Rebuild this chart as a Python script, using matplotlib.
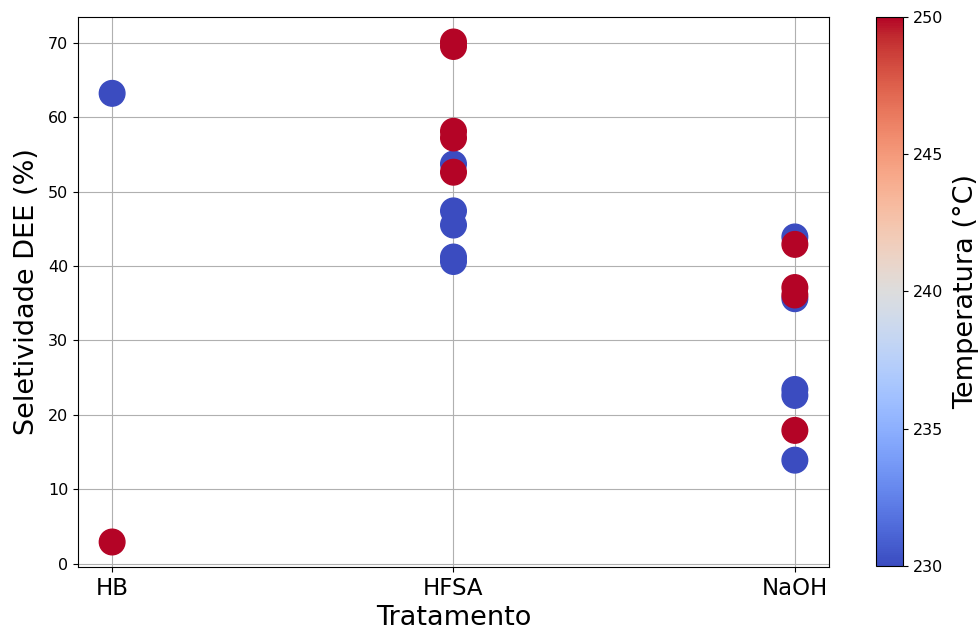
import matplotlib
matplotlib.use("Agg")
import matplotlib.pyplot as plt
from matplotlib.ticker import MultipleLocator, FormatStrFormatter

# data
tratamento = ["HB", "HB",
              "HFSA", "HFSA", "HFSA", "HFSA", "HFSA", "HFSA", "HFSA", "HFSA", "HFSA", "HFSA",
              "NaOH", "NaOH", "NaOH", "NaOH", "NaOH", "NaOH", "NaOH", "NaOH", "NaOH"]
seletividade = [63.2, 2.9,
                53.7, 47.4, 45.5, 41.2, 40.6, 70.1, 69.5, 58.1, 57.2, 52.6,
                43.9, 35.6, 23.4, 22.6, 13.9, 42.9, 37.1, 36.1, 17.9]
temperatura = [230, 250,
               230, 230, 230, 230, 230, 250, 250, 250, 250, 250,
               230, 230, 230, 230, 230, 250, 250, 250, 250]
categorias = ["HB", "HFSA", "NaOH"]

x = [categorias.index(t) for t in tratamento]

fig = plt.figure(figsize=(9.79, 6.33), dpi=100)
ax = fig.add_axes([78 / 979, 1 - 567 / 633, (829 - 78) / 979, (567 - 17) / 633])
cax = fig.add_axes([876 / 979, 1 - 566 / 633, (903 - 876) / 979, (566 - 17) / 633])

sc = ax.scatter(x, seletividade, c=temperatura, cmap="coolwarm", s=340, zorder=3)
ax.set_xticks(range(len(categorias)))
ax.set_xticklabels(categorias, fontsize=16.5)
ax.tick_params(axis="y", labelsize=11.5)
ax.set_xlabel("Tratamento", fontsize=19.5)
ax.set_ylabel("Seletividade DEE (%)", fontsize=19.5, labelpad=6)
ax.grid(True, color="#b0b0b0")
ax.set_axisbelow(True)

cbar = fig.colorbar(sc, cax=cax)
cbar.set_label("Temperatura (°C)", fontsize=19.5, labelpad=7)
cbar.ax.yaxis.set_major_locator(MultipleLocator(5))
cbar.ax.yaxis.set_major_formatter(FormatStrFormatter("%d"))
cbar.ax.tick_params(labelsize=11.5)

fig.savefig("out.png", dpi=100)
